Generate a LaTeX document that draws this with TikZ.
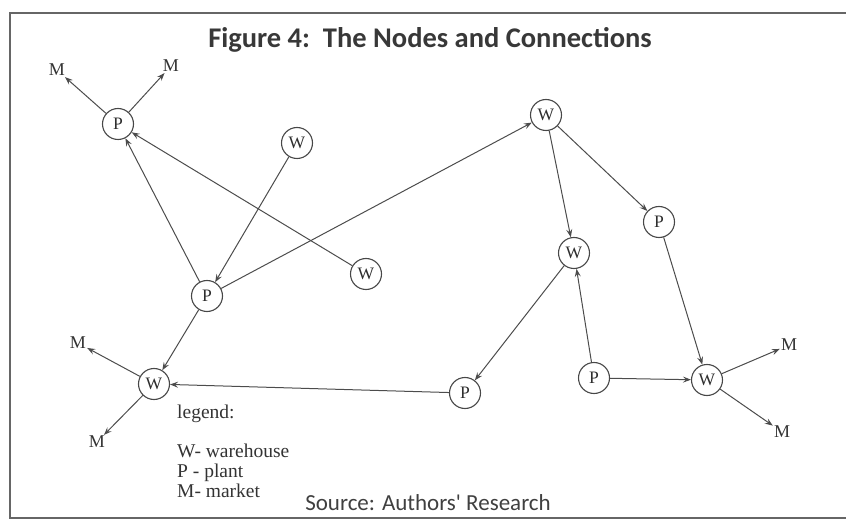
\documentclass[tikz,border=0pt]{standalone}
\usepackage{fontspec}
\setmainfont{Liberation Serif}
\newfontfamily\calib{Carlito}
\usetikzlibrary{arrows.meta}
\begin{document}
\begin{tikzpicture}[x=1pt,y=-1pt,
  hub/.style={circle,draw=black!72,line width=1.1pt,minimum size=31pt,inner sep=0pt,text=black!82,font=\fontsize{17.5}{17.5}\selectfont},
  mkt/.style={inner sep=1pt,text=black!80,font=\fontsize{18}{18}\selectfont},
  link/.style={draw=black!70,line width=1pt,-{Stealth[length=8pt,width=6pt,inset=3pt]}},
  lgd/.style={anchor=base west,inner sep=0pt,text=black!80,font=\fontsize{19.5}{19.5}\selectfont}]
\useasboundingbox(0,0)rectangle(846,521);
\draw[black!60,line width=1.6pt](10,13)rectangle(862,518);
\node[anchor=base,text=black!78,font=\calib\bfseries\fontsize{28.5}{28.5}\selectfont](title)at(430,48){Figure 4:\ \ The Nodes and Connections};
\node[anchor=base,text=black!75,font=\calib\fontsize{23}{23}\selectfont](source)at(428,510){Source: Authors' Research};
% plants and warehouses
\node[hub](pA)at(118,124){P};
\node[hub](wA)at(297,143){W};
\node[hub](wB)at(366,274){W};
\node[hub](pB)at(207,296){P};
\node[hub](wC)at(154,384){W};
\node[hub](pC)at(465,393){P};
\node[hub](wD)at(546,115){W};
\node[hub](pD)at(659,222){P};
\node[hub](wE)at(574,253){W};
\node[hub](pE)at(594,378){P};
\node[hub](wF)at(707,380){W};
% markets
\node[mkt](mA)at(57,70){M};
\node[mkt](mB)at(171,66){M};
\node[mkt](mC)at(78,343){M};
\node[mkt](mD)at(97,442){M};
\node[mkt](mE)at(789,345){M};
\node[mkt](mF)at(782,432){M};
% connections
\draw[link](pB)--(pA);
\draw[link](wB)--(pA);
\draw[link](wA)--(pB);
\draw[link](pB)--(wD);
\draw[link](pB)--(wC);
\draw[link](pC)--(wC);
\draw[link](wD)--(wE);
\draw[link](wD)--(pD);
\draw[link](wE)--(pC);
\draw[link](pE)--(wE);
\draw[link](pD)--(wF);
\draw[link](pE)--(wF);
\draw[link](pA)--(mA);
\draw[link](pA)--(mB);
\draw[link](wC)--(mC);
\draw[link](wC)--(mD);
\draw[link](wF)--(mE);
\draw[link](wF)--(mF);
% legend
\node[lgd](lgA)at(177,418){legend:};
\node[lgd](lgW)at(177,457){W- warehouse};
\node[lgd](lgP)at(177,477){P - plant};
\node[lgd](lgM)at(177,497){M- market};
\end{tikzpicture}
\end{document}
